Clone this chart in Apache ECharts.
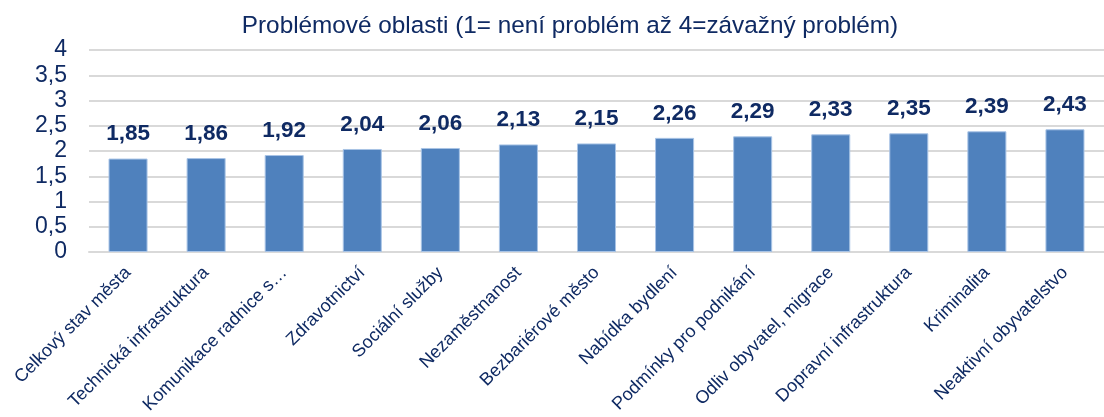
<!DOCTYPE html>
<html><head><meta charset="utf-8">
<script src="https://cdn.jsdelivr.net/npm/echarts@6/dist/echarts.min.js"></script>
<style>html,body{margin:0;padding:0;background:#fff}#c{width:1104px;height:417px}</style>
</head><body><div id="c"></div>
<script>
const titleText = 'Problémové oblasti (1= není problém až 4=závažný problém)';
const categories = ['Celkový stav města','Technická infrastruktura','Komunikace radnice s…','Zdravotnictví','Sociální služby','Nezaměstnanost','Bezbariérové město','Nabídka bydlení','Podmínky pro podnikání','Odliv obyvatel, migrace','Dopravní infrastruktura','Kriminalita','Neaktivní obyvatelstvo'];
const values = [1.85,1.86,1.92,2.04,2.06,2.13,2.15,2.26,2.29,2.33,2.35,2.39,2.43];
const yMin = 0, yMax = 4, yStep = 0.5;

const navy = '#0f2a63';
const font = 'Liberation Sans, Arial, sans-serif';
const chart = echarts.init(document.getElementById('c'), null, {renderer:'canvas'});
chart.setOption({
  animation:false,
  title:{text:titleText,left:565,textAlign:'center',top:9,textStyle:{color:navy,fontSize:24.3,fontWeight:'normal',fontFamily:font}},
  grid:{left:89,right:-8,top:50,bottom:165,containLabel:false},
  xAxis:{type:'category',data:categories,
    axisLine:{lineStyle:{color:'#d9d9d9',width:2}},axisTick:{show:false},
    axisLabel:{rotate:45,interval:0,color:navy,fontSize:18,fontFamily:font,margin:18}},
  yAxis:{type:'value',min:yMin,max:yMax,interval:yStep,
    axisLine:{show:false},axisTick:{show:false},
    splitLine:{lineStyle:{color:'#d9d9d9',width:2}},
    axisLabel:{color:navy,fontSize:23,fontFamily:font,margin:22,
      formatter:v=>String(v).replace('.',',')}},
  series:[{type:'bar',data:values,barCategoryGap:'50%',
    itemStyle:{color:'#4f81bd',borderColor:'#a9c4e6',borderWidth:1},
    label:{show:true,position:'top',distance:13,color:navy,fontSize:22.5,fontWeight:'bold',fontFamily:font,
      formatter:p=>p.value.toFixed(2).replace('.',',')}}]
});
</script></body></html>
